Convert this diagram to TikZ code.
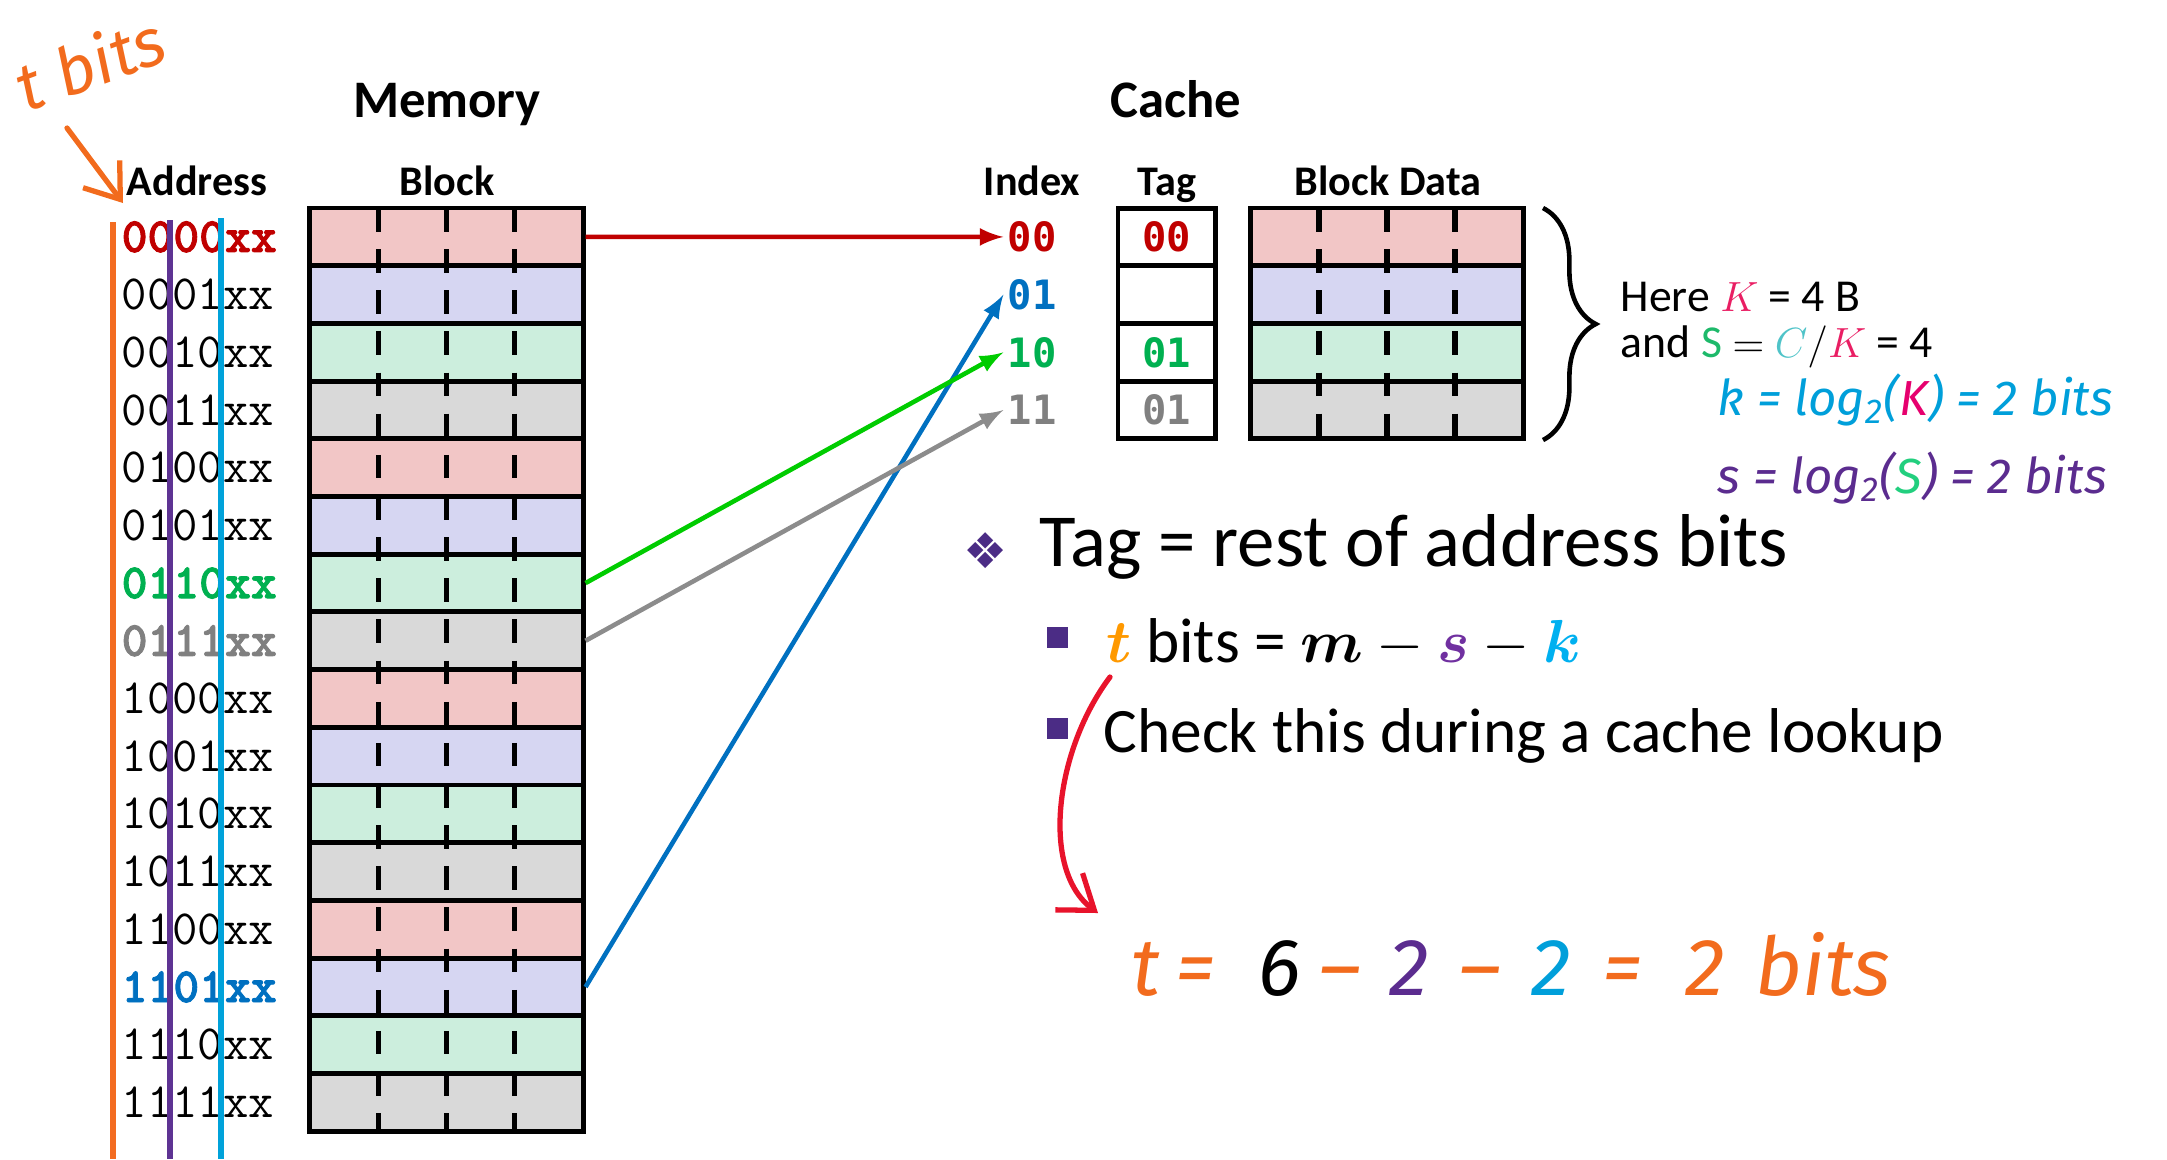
\documentclass[tikz,border=0pt]{standalone}
\usepackage{fontspec}
\usepackage{amsmath}
\usepackage{bm}
\usepackage{xcolor}
\usetikzlibrary{decorations.pathreplacing,arrows.meta}
\setmainfont{Carlito}
\newfontfamily\addrbold{lmmonolt10-bold.otf}[FakeBold=1.8]
\newfontfamily\idxfont{DejaVu Sans Mono}
\newfontfamily\dejavu{DejaVu Sans}
\newfontfamily\handfont{Fira Sans}
\newcommand{\setfs}[1]{\fontsize{#1}{#1}\selectfont}

\definecolor{pinkfill}{HTML}{F2C6C6}
\definecolor{lavfill}{HTML}{D6D6F2}
\definecolor{mintfill}{HTML}{CCEEDD}
\definecolor{grayfill}{HTML}{D9D9D9}
\definecolor{cred}{HTML}{C00000}
\definecolor{cgreen}{HTML}{00B050}
\definecolor{cgray}{HTML}{808080}
\definecolor{cblue}{HTML}{0070C0}
\definecolor{arrgreen}{HTML}{00CC00}
\definecolor{arrgray}{HTML}{8C8C8C}
\definecolor{vorange}{HTML}{F36C21}
\definecolor{vpurple}{HTML}{5E3393}
\definecolor{vblue}{HTML}{00A2DA}
\definecolor{handorange}{HTML}{F26B1D}
\definecolor{handblue}{HTML}{009FDA}
\definecolor{handpurple}{HTML}{5B2C8F}
\definecolor{handpink}{HTML}{E6006E}
\definecolor{handgreen}{HTML}{22CF7E}
\definecolor{handred}{HTML}{E8132B}
\definecolor{kpink}{HTML}{E91E63}
\definecolor{sgreen}{HTML}{1DB96A}
\definecolor{cteal}{HTML}{4FC3C8}
\definecolor{torange}{HTML}{FF9900}
\definecolor{spurple}{HTML}{7030A0}
\definecolor{kblue}{HTML}{00B0F0}
\definecolor{bulpurple}{HTML}{4B2C85}

\begin{document}
\begin{tikzpicture}[x=0.01cm, y=-0.01cm, >=latex,
  memrow/.style={draw, line width=1.4pt, minimum width=2.73cm, minimum height=0.577cm, inner sep=0pt},
  tagbox/.style={draw, line width=1.4pt, minimum width=0.97cm, minimum height=0.577cm, inner sep=0pt, font=\idxfont\bfseries\setfs{11.5}},
  blockdash/.style={line width=1.5pt, dash pattern=on 6.7pt off 5pt},
  addrplain/.style={anchor=west, inner sep=0pt, font=\ttfamily\setfs{14}},
  addrred/.style={addrplain, text=cred, font=\addrbold\setfs{14}},
  addrgreen/.style={addrred, text=cgreen},
  addrgray/.style={addrred, text=cgray},
  addrblue/.style={addrred, text=cblue},
  idx/.style={inner sep=1pt, font=\idxfont\bfseries\setfs{11.5}},
  link/.style={->, line width=1.3pt},
  hand/.style={inner sep=0pt, font=\handfont\itshape\setfs{14}},
  eqpart/.style={hand, anchor=base, font=\handfont\itshape\setfs{23}},
  handarrow/.style={-{Straight Barb[length=9pt, width=13pt]}, line width=1.5pt, line cap=round},
  sqbul/.style={fill=bulpurple, minimum size=0.21cm, inner sep=0pt}]
  \useasboundingbox (0,0) rectangle (2167,1159);

  % Headers
  \node[anchor=base, font=\bfseries\setfs{15}] (memhead) at (447,117) {Memory};
  \node[anchor=base, font=\bfseries\setfs{15}] (cachehead) at (1176,117) {Cache};
  \node[anchor=base, font=\bfseries\setfs{12}] (addrhead) at (197,195) {Address};
  \node[anchor=base, font=\bfseries\setfs{12}] (blockhead) at (447,195) {Block};
  \node[anchor=base, font=\bfseries\setfs{12}] (idxhead) at (1032,195) {Index};
  \node[anchor=base, font=\bfseries\setfs{12}] (taghead) at (1167,195) {Tag};
  \node[anchor=base, font=\bfseries\setfs{12}] (datahead) at (1388,195) {Block Data};

  % Memory blocks
  \foreach \j in {0,...,3}{
    \foreach \k/\c in {0/pinkfill,1/lavfill,2/mintfill,3/grayfill}{
      \pgfmathtruncatemacro{\i}{4*\j+\k}
      \node[memrow, fill=\c] (m\i) at (446.5, {208+57.7*(\i+0.5)}) {};
    }
  }
  \foreach \q in {1,2,3}
    \draw[blockdash] ({310+68.25*\q},208) -- ({310+68.25*\q},1131);

  % Addresses
  \foreach \i/\bits/\sty in {0/0000/addrred, 1/0001/addrplain, 2/0010/addrplain,
      3/0011/addrplain, 4/0100/addrplain, 5/0101/addrplain, 6/0110/addrgreen,
      7/0111/addrgray, 8/1000/addrplain, 9/1001/addrplain, 10/1010/addrplain,
      11/1011/addrplain, 12/1100/addrplain, 13/1101/addrblue, 14/1110/addrplain,
      15/1111/addrplain}
    \node[\sty] (a\i) at (121, {208+57.7*(\i+0.5)}) {\bits xx};
  \draw[line width=1.5pt, vorange] (113,222) -- (113,1159);
  \draw[line width=1.5pt, vpurple] (170,220) -- (170,1159);
  \draw[line width=1.5pt, vblue] (221,218) -- (221,1159);

  % Cache
  \foreach \i/\c in {0/pinkfill,1/lavfill,2/mintfill,3/grayfill}
    \node[memrow, minimum width=2.72cm, fill=\c] (c\i) at (1387, {208+57.7*(\i+0.5)}) {};
  \foreach \q in {-1,0,1}
    \draw[blockdash] ({1387+68*\q},208) -- ({1387+68*\q},439);
  \node[tagbox, text=cred] (t0) at (1166.5, 236.9) {00};
  \node[tagbox] (t1) at (1166.5, 294.6) {};
  \node[tagbox, text=cgreen] (t2) at (1166.5, 352.3) {01};
  \node[tagbox, text=cgray] (t3) at (1166.5, 410.0) {01};

  % Index
  \node[idx, text=cred] (i0) at (1032, 236.9) {00};
  \node[idx, text=cblue] (i1) at (1032, 294.6) {01};
  \node[idx, text=cgreen] (i2) at (1032, 352.3) {10};
  \node[idx, text=cgray] (i3) at (1032, 410.0) {11};

  \draw[link, cred] (m0.east) -- (i0.west);
  \draw[link, cblue] (m13.east) -- (i1.west);
  \draw[link, arrgreen] (m6.east) -- (i2.west);
  \draw[link, arrgray] (m7.east) -- (i3.west);

  % Brace and sizes
  \draw[decorate, decoration={brace, amplitude=15pt}, line width=1.3pt] (1543,208) -- (1543,440);
  \node[anchor=base west, inner sep=0pt, font=\setfs{13}] (here1) at (1620,311)
    {Here \textcolor{kpink}{$K$} = 4 B};
  \node[anchor=base west, inner sep=0pt, font=\setfs{13}] (here2) at (1620,357)
    {and \textcolor{sgreen}{$\mathrm{S}$} $=$ \textcolor{cteal}{$C$}$/$\textcolor{kpink}{$K$} = 4};
  \node[hand, text=handblue, anchor=west] (klog) at (1717,400)
    {k = log\textsubscript{2}(\textcolor{handpink}{K}) = 2 bits};
  \node[hand, text=handpurple, anchor=west] (slog) at (1717,478)
    {s = log\textsubscript{2}(\textcolor{handgreen}{S}) = 2 bits};

  % Tag bullets
  \node[text=bulpurple, font=\dejavu\setfs{14}] (dia) at (986,551) {❖};
  \node[anchor=base west, inner sep=0pt, font=\setfs{21.3}] (tagrest) at (1039,566)
    {Tag = rest of address bits};
  \node[sqbul] (b1) at (1057.5,637) {};
  \node[anchor=base west, inner sep=0pt, font=\setfs{18}] (tline) at (1106,662)
    {\textcolor{torange}{$\bm{t}$} bits = $\bm{m} - \textcolor{spurple}{\bm{s}} - \textcolor{kblue}{\bm{k}}$};
  \node[sqbul] (b2) at (1057.5,728) {};
  \node[anchor=base west, inner sep=0pt, font=\setfs{18}] (check) at (1103,752)
    {Check this during a cache lookup};

  % Handwritten notes
  \node[hand, text=handorange, rotate=20, font=\handfont\itshape\setfs{19}] (tbits) at (90,62) {t bits};
  \coordinate (tstart) at (67,128);
  \coordinate (tend) at (123,203);
  \draw[handarrow, handorange] (tstart) -- (tend);
  \coordinate (rstart) at (1110,677);
  \coordinate (rend) at (1098,913);
  \draw[handarrow, handred] (rstart) .. controls (1055,750) and (1040,870) .. (rend);
  \foreach \n/\x/\s/\c in {1/1146/t/handorange, 2/1196/=/handorange, 3/1280/6/black,
      4/1340/\textendash/handorange, 5/1409/2/handpurple, 6/1480/\textendash/handorange,
      7/1551/2/handblue, 8/1622/=/handorange, 9/1705/2/handorange}
    \node[eqpart, text=\c] (eq\n) at (\x,995) {\s};
  \node[eqpart, anchor=base west, text=handorange] (eq10) at (1755,995) {bits};
\end{tikzpicture}
\end{document}
